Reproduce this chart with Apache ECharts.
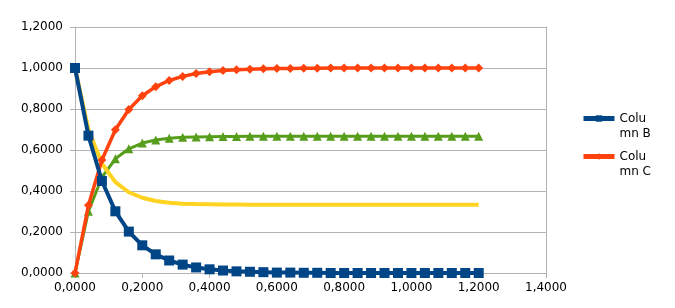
<!DOCTYPE html>
<html><head><meta charset="utf-8">
<script src="https://cdn.jsdelivr.net/npm/echarts@6/dist/echarts.min.js"></script>
<style>html,body{margin:0;padding:0;background:#fff}#c{width:675px;height:308px}</style>
</head><body><div id="c"></div>
<script>
const xValues = [0,0.04,0.08,0.12,0.16,0.2,0.24,0.28,0.32,0.36,0.4,0.44,0.48,0.52,0.56,0.6,0.64,0.68,0.72,0.76,0.8,0.84,0.88,0.92,0.96,1.0,1.04,1.08,1.12,1.16,1.2];
const columnB = [1,0.670,0.449,0.301,0.202,0.135,0.091,0.061,0.041,0.027,0.018,0.012,0.008,0.006,0.004,0.002,0.002,0.001,0.001,0,0,0,0,0,0,0,0,0,0,0,0];
const columnC = [0,0.330,0.551,0.699,0.798,0.865,0.909,0.939,0.959,0.973,0.982,0.988,0.992,0.994,0.996,0.998,0.998,0.999,0.999,1,1,1,1,1,1,1,1,1,1,1,1];
const columnD = [0,0.301,0.466,0.557,0.606,0.634,0.649,0.657,0.662,0.664,0.665,0.666,0.666,0.667,0.667,0.667,0.667,0.667,0.667,0.667,0.667,0.667,0.667,0.667,0.667,0.667,0.667,0.667,0.667,0.667,0.667];
const columnE = [1,0.699,0.534,0.443,0.394,0.367,0.351,0.343,0.338,0.336,0.335,0.334,0.334,0.333,0.333,0.333,0.333,0.333,0.333,0.333,0.333,0.333,0.333,0.333,0.333,0.333,0.333,0.333,0.333,0.333,0.333];
const pair = arr => xValues.map((x,i)=>[x,arr[i]]);
const fmt = v => v.toFixed(4).replace('.', ',');
const font = 'DejaVu Sans';
const legendBase = {orient:'vertical',left:576,itemWidth:31,itemHeight:8,
  lineStyle:{width:5},
  formatter:n=>'\u00a0\n'+n.replace('Column','Colu\nmn'),
  textStyle:{fontFamily:font,fontSize:12,color:'#000',lineHeight:15}};
const chart = echarts.init(document.getElementById('c'), null, {renderer:'canvas'});
chart.setOption({
  animation:false,
  backgroundColor:'#fff',
  grid:{left:75,right:129,top:27,bottom:35,containLabel:false},
  xAxis:{type:'value',min:0,max:1.4,interval:0.2,
    axisLine:{show:true,onZero:false,lineStyle:{color:'#b3b3b3',width:1}},
    axisTick:{show:true,length:5,lineStyle:{color:'#b3b3b3'}},
    splitLine:{show:false},
    axisLabel:{formatter:fmt,color:'#000',fontFamily:font,fontSize:12,margin:9}},
  yAxis:[{type:'value',min:0,max:1.2,interval:0.2,
    axisLine:{show:true,lineStyle:{color:'#b3b3b3',width:1}},
    axisTick:{show:true,length:5,lineStyle:{color:'#b3b3b3'}},
    splitLine:{show:true,lineStyle:{color:'#b3b3b3',width:1}},
    axisLabel:{formatter:fmt,color:'#000',fontFamily:font,fontSize:12,margin:12}},
    {type:'value',min:0,max:1.2,interval:0.2,position:'right',
    axisLine:{show:true,lineStyle:{color:'#b3b3b3',width:1}},
    axisTick:{show:false},splitLine:{show:false},axisLabel:{show:false}}],
  legend:[Object.assign({data:['Column B'],top:91},legendBase),
          Object.assign({data:['Column C'],top:129},legendBase)],
  series:[
    {name:'Column D',type:'line',data:pair(columnD),symbol:'triangle',symbolSize:9,
      lineStyle:{color:'#579d1c',width:3},itemStyle:{color:'#579d1c'},z:2},
    {name:'Column E',type:'line',data:pair(columnE),symbol:'none',
      lineStyle:{color:'#ffd320',width:4},itemStyle:{color:'#ffd320'},z:2},
    {name:'Column C',type:'line',data:pair(columnC),symbol:'diamond',symbolSize:9,
      lineStyle:{color:'#ff420e',width:3.5},itemStyle:{color:'#ff420e'},z:3},
    {name:'Column B',type:'line',data:pair(columnB),symbol:'rect',symbolSize:10,
      lineStyle:{color:'#004586',width:4},itemStyle:{color:'#004586'},z:4}
  ]
});
</script></body></html>
